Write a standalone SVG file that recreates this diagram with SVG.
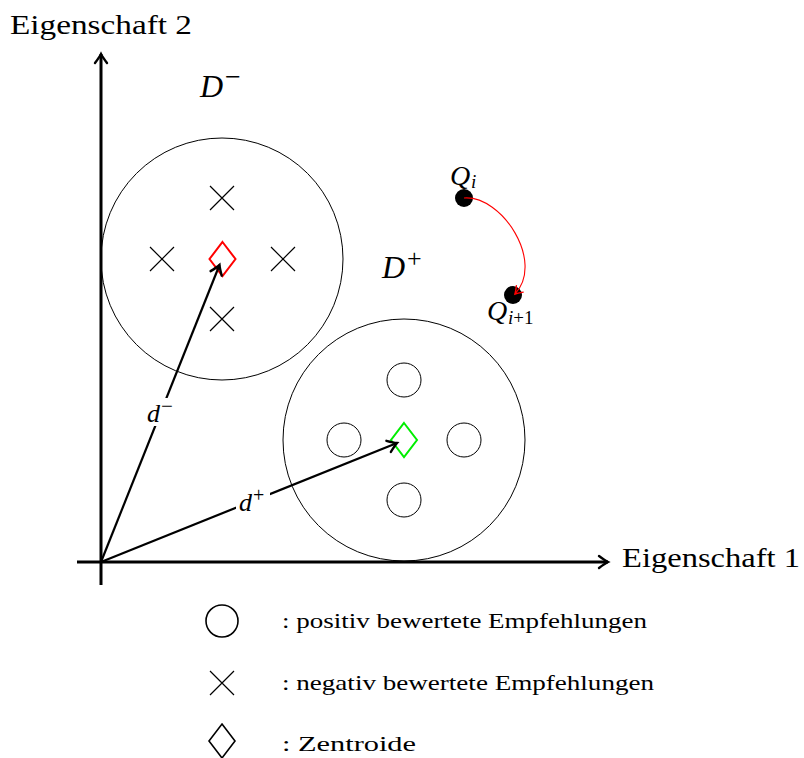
<svg xmlns="http://www.w3.org/2000/svg" width="804" height="758" viewBox="0 0 804 758">
<defs>
<style>
.txt{font-family:"Liberation Serif","Times New Roman",serif;fill:#000}
.lbl{font-size:28px}
.leg{font-size:22px}
.math{font-family:"Liberation Serif","Times New Roman",serif;font-style:italic;fill:#000}
.sub{font-style:normal}
.thin{fill:none;stroke:#000;stroke-width:1}
.axis{fill:none;stroke:#000;stroke-width:3}
.vec{fill:none;stroke:#000;stroke-width:2.2}
</style>
<marker id="tip" markerUnits="userSpaceOnUse" markerWidth="20" markerHeight="20" refX="0" refY="0" viewBox="-12 -10 14 20" orient="auto">
<path d="M-9,-6 Q-3,-1.5 0,0 Q-3,1.5 -9,6" fill="none" stroke="#000" stroke-width="2.4" stroke-linecap="round"/>
</marker>
<marker id="tipr" markerUnits="userSpaceOnUse" markerWidth="14" markerHeight="14" refX="0" refY="0" viewBox="-8 -6 10 12" orient="auto">
<path d="M-6,-4 Q-2,-1 0,0 Q-2,1 -6,4" fill="none" stroke="#ff0000" stroke-width="1.2" stroke-linecap="round"/>
</marker>
<g id="cross"><path d="M-12,-12 L12,12 M-12,12 L12,-12" stroke="#000" stroke-width="1.2" fill="none"/></g>
<path id="dia" d="M0,-17 L13,0 L0,17 L-13,0 Z"/>
</defs>

<g id="axes">
<line class="axis" x1="101" y1="585" x2="101" y2="54" marker-end="url(#tip)"/>
<line class="axis" x1="77" y1="562" x2="608" y2="562" marker-end="url(#tip)"/>
<text class="txt lbl" x="10" y="34" textLength="182" lengthAdjust="spacingAndGlyphs">Eigenschaft 2</text>
<text class="txt lbl" x="622" y="567" textLength="178" lengthAdjust="spacingAndGlyphs">Eigenschaft 1</text>
</g>

<g id="cluster-neg">
<circle class="thin" cx="222" cy="259" r="121"/>
<use href="#cross" x="222" y="198"/>
<use href="#cross" x="162" y="259"/>
<use href="#cross" x="283" y="259"/>
<use href="#cross" x="222" y="319"/>
<use href="#dia" x="222.5" y="259" fill="none" stroke="#ff0000" stroke-width="2"/>
<text class="math" x="200" y="97" font-size="32">D<tspan class="sub" x="225" font-size="28" dy="-11">−</tspan></text>
</g>

<g id="cluster-pos">
<circle class="thin" cx="404" cy="440" r="121"/>
<circle class="thin" cx="404" cy="380" r="17"/>
<circle class="thin" cx="344" cy="440" r="17"/>
<circle class="thin" cx="464" cy="440" r="17"/>
<circle class="thin" cx="404" cy="500" r="17"/>
<use href="#dia" x="404" y="440" fill="none" stroke="#00ee00" stroke-width="2"/>
<text class="math" x="382" y="278" font-size="32">D<tspan class="sub" x="407" font-size="26" dy="-11">+</tspan></text>
</g>

<g id="query">
<circle cx="464" cy="198" r="9" fill="#000"/>
<circle cx="513" cy="295" r="9" fill="#000"/>
<text class="math" x="450" y="185" font-size="28">Q<tspan x="471" font-size="19" dy="3">i</tspan></text>
<text class="math" x="487" y="320" font-size="28">Q<tspan x="508" font-size="19" dy="4">i</tspan><tspan class="sub" font-size="19">+1</tspan></text>
</g>

<g id="connectors">
<path d="M464,198 C502,195 545,262 515,294" fill="none" stroke="#ff0000" stroke-width="1.1" marker-end="url(#tipr)"/>
<line class="vec" x1="101" y1="562" x2="219.5" y2="265" marker-end="url(#tip)"/>
<line class="vec" x1="101" y1="562" x2="397" y2="443" marker-end="url(#tip)"/>
<rect x="145" y="398" width="32" height="28" fill="#fff"/>
<text class="math" x="147" y="422" font-size="26">d<tspan class="sub" x="161" font-size="21" dy="-9">−</tspan></text>
<rect x="236" y="486" width="34" height="28" fill="#fff"/>
<text class="math" x="239" y="511" font-size="26">d<tspan class="sub" x="253" font-size="20" dy="-9">+</tspan></text>
</g>

<g id="legend">
<circle cx="222" cy="621" r="16" fill="none" stroke="#000" stroke-width="1.6"/>
<use href="#cross" x="222" y="683"/>
<use href="#dia" x="222" y="741" fill="none" stroke="#000" stroke-width="1.6"/>
<text class="txt leg" x="282" y="628" textLength="365" lengthAdjust="spacingAndGlyphs">: positiv bewertete Empfehlungen</text>
<text class="txt leg" x="282" y="690" textLength="372" lengthAdjust="spacingAndGlyphs">: negativ bewertete Empfehlungen</text>
<text class="txt leg" x="282" y="751" textLength="134" lengthAdjust="spacingAndGlyphs">: Zentroide</text>
</g>
</svg>
